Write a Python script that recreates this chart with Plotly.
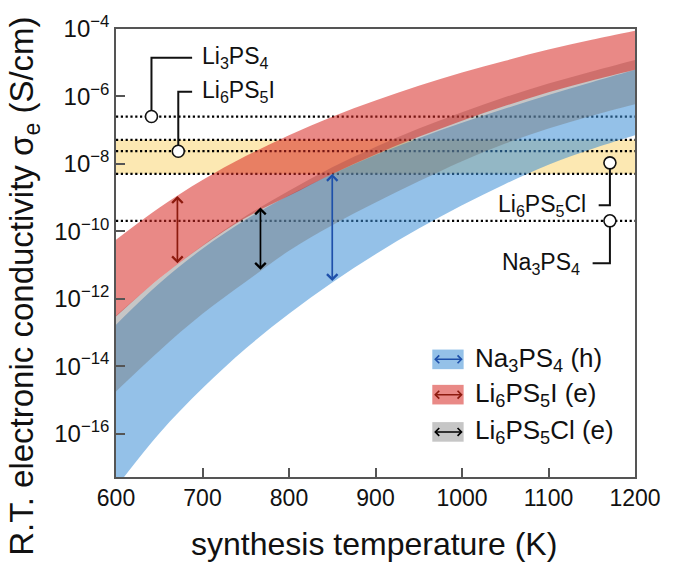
import numpy as np
import plotly.graph_objects as go

# Synthesis temperature grid (K)
temperature_K = [600, 650, 700, 750, 800, 850, 900, 950, 1000, 1050, 1100, 1150, 1200]

# log10 of room-temperature electronic conductivity (S/cm): lower / upper band edges
na3ps4_lo = [-17.60, -16.00, -14.66, -13.48, -12.45, -11.52, -10.68, -9.92, -9.23, -8.60, -8.03, -7.56, -7.15]
na3ps4_hi = [-12.77, -11.55, -10.52, -9.66, -8.93, -8.30, -7.74, -7.24, -6.78, -6.36, -5.96, -5.58, -5.21]
li6ps5cl_lo = [-14.75, -13.55, -12.45, -11.50, -10.58, -9.82, -9.15, -8.52, -7.92, -7.40, -6.95, -6.57, -6.23]
li6ps5cl_hi = [-12.50, -11.40, -10.42, -9.55, -8.80, -8.10, -7.50, -6.95, -6.47, -6.02, -5.62, -5.26, -4.92]
li6ps5i_lo = [-12.53, -11.40, -10.44, -9.60, -8.95, -8.30, -7.72, -7.20, -6.72, -6.28, -5.88, -5.53, -5.21]
li6ps5i_hi = [-10.25, -9.30, -8.48, -7.77, -7.15, -6.60, -6.12, -5.68, -5.29, -4.94, -4.61, -4.32, -4.05]

# Experimental values (S/cm) shown as open circles
exp_names = ["Li<sub>3</sub>PS<sub>4</sub>", "Li<sub>6</sub>PS<sub>5</sub>I",
             "Li<sub>6</sub>PS<sub>5</sub>Cl", "Na<sub>3</sub>PS<sub>4</sub>"]
exp_sigma = [2.53e-7, 2.37e-8, 1.07e-8, 2.04e-10]
exp_T = [641, 672, 1171, 1171]

# Reference levels (S/cm) drawn as dotted lines, and the Li6PS5Cl reported range
level_sigma = [2.53e-7, 5.17e-8, 2.37e-8, 5.07e-9, 2.04e-10]
cl_range = [5.07e-9, 5.17e-8]

# Band labels and the temperatures where the span arrows sit
band_labels = ["Na<sub>3</sub>PS<sub>4</sub> (h)", "Li<sub>6</sub>PS<sub>5</sub>I (e)",
               "Li<sub>6</sub>PS<sub>5</sub>Cl (e)"]
arrow_T = [850, 671, 767]

x_ticks = [600, 700, 800, 900, 1000, 1100, 1200]
y_tick_exp = [-16, -14, -12, -10, -8, -6, -4]

# ---- styling ----
FONT = "Liberation Sans, Arial, Helvetica, sans-serif"
AX = "#555555"
band_fill = {
    "na": "rgba(60,142,213,0.55)",
    "cl": "rgba(113,113,113,0.405)",
    "i": "rgba(215,40,35,0.55)",
}
arrow_col = {"na": "#1E50AA", "cl": "#000000", "i": "#8C1A0E"}

W, H = 673, 567
ML, MR, MT, MB = 116, 27, 20, 90
PW, PH = W - ML - MR, H - MT - MB


def px_x(px):
    return (px - ML) / PW


def px_y(py):
    return (H - MB - py) / PH


def sig(v):
    return list(np.power(10.0, v))


fig = go.Figure()

# Li6PS5Cl reported range (yellow)
fig.add_trace(go.Scatter(x=[x_ticks[0], x_ticks[-1]], y=[cl_range[0]] * 2, mode="lines",
                         line=dict(width=0), hoverinfo="skip", showlegend=False))
fig.add_trace(go.Scatter(x=[x_ticks[0], x_ticks[-1]], y=[cl_range[1]] * 2, mode="lines",
                         line=dict(width=0), fill="tonexty", fillcolor="#FCE8B2",
                         hoverinfo="skip", showlegend=False))

# dotted reference levels
lx, ly = [], []
for v in level_sigma:
    lx += [x_ticks[0], x_ticks[-1], None]
    ly += [v, v, None]
fig.add_trace(go.Scatter(x=lx, y=ly, mode="lines",
                         line=dict(color="#000000", width=2.2, dash="2.2px,2.6px"),
                         hoverinfo="skip", showlegend=False))

# conductivity bands
bands = [("na", na3ps4_lo, na3ps4_hi), ("cl", li6ps5cl_lo, li6ps5cl_hi), ("i", li6ps5i_lo, li6ps5i_hi)]
for key, lo, hi in bands:
    fig.add_trace(go.Scatter(x=temperature_K, y=sig(lo), mode="lines",
                             line=dict(width=0, shape="spline", smoothing=1.0),
                             hoverinfo="skip", showlegend=False))
    fig.add_trace(go.Scatter(x=temperature_K, y=sig(hi), mode="lines",
                             line=dict(width=0, shape="spline", smoothing=1.0),
                             fill="tonexty", fillcolor=band_fill[key],
                             hoverinfo="skip", showlegend=False))

# callout leaders for the experimental points
callouts = [
    dict(elbow=-4.85, end=688, side="right"),
    dict(elbow=-5.86, end=688, side="right"),
    dict(elbow=-9.23, end=1158, side="left"),
    dict(elbow=-10.95, end=1151, side="left"),
]
label_font = dict(size=23, color="#111111", family=FONT)
cx, cy = [], []
annotations = []
for i, c in enumerate(callouts):
    yel = 10 ** c["elbow"]
    cx += [exp_T[i], exp_T[i], c["end"], None]
    cy += [exp_sigma[i], yel, yel, None]
    if c["side"] == "right":
        annotations.append(dict(x=c["end"] + 9, y=c["elbow"], xref="x", yref="y",
                                text=exp_names[i], showarrow=False, xanchor="left",
                                yanchor="middle", font=label_font))
    else:
        annotations.append(dict(x=c["end"] - 12, y=c["elbow"], xref="x", yref="y",
                                text=exp_names[i], showarrow=False, xanchor="right",
                                yanchor="middle", font=label_font))
fig.add_trace(go.Scatter(x=cx, y=cy, mode="lines", line=dict(color="#111111", width=2),
                         hoverinfo="skip", showlegend=False))

fig.add_trace(go.Scatter(x=exp_T, y=exp_sigma, mode="markers",
                         marker=dict(size=12, color="white", line=dict(color="#111111", width=1.6)),
                         hoverinfo="skip", showlegend=False))

# span arrows inside each band
for key, lo, hi in bands:
    t = arrow_T[["na", "i", "cl"].index(key)]
    ylo = float(np.interp(t, temperature_K, lo))
    yhi = float(np.interp(t, temperature_K, hi))
    annotations.append(dict(x=t, y=yhi, ax=t, ay=ylo, xref="x", yref="y", axref="x", ayref="y",
                            text="", showarrow=True, arrowhead=4, startarrowhead=4,
                            arrowside="end+start", arrowsize=1.2, startarrowsize=1.2,
                            arrowwidth=1.7, arrowcolor=arrow_col[key],
                            standoff=0, startstandoff=0))

# legend drawn by hand: coloured patch with a double arrow, then the label
legend_rows = [357, 393, 431]
shapes = []
for k, key in enumerate(["na", "i", "cl"]):
    yc = legend_rows[k]
    shapes.append(dict(type="rect", xref="paper", yref="paper",
                       x0=px_x(439), x1=px_x(471), y0=px_y(yc + 10), y1=px_y(yc - 10),
                       fillcolor=band_fill[key], line=dict(width=0)))
    annotations.append(dict(x=px_x(470), y=px_y(yc), xref="paper", yref="paper",
                            ax=-30, ay=0, text="", showarrow=True, arrowhead=4,
                            startarrowhead=4, arrowside="end+start", arrowsize=1.0,
                            startarrowsize=1.0, arrowwidth=1.5, arrowcolor=arrow_col[key],
                            standoff=0, startstandoff=0))
    annotations.append(dict(x=px_x(481), y=px_y(yc), xref="paper", yref="paper",
                            text=band_labels[k], showarrow=False, xanchor="left",
                            yanchor="middle", font=dict(size=26, color="#111111", family=FONT)))

# axis titles
annotations.append(dict(x=px_x(379), y=px_y(545), xref="paper", yref="paper",
                        text="synthesis temperature (K)", showarrow=False,
                        xanchor="center", yanchor="middle",
                        font=dict(size=32, color="#111111", family=FONT)))
annotations.append(dict(x=px_x(22), y=px_y(282), xref="paper", yref="paper",
                        text="R.T. electronic conductivity σ<sub>e</sub> (S/cm)", showarrow=False,
                        textangle=-90, xanchor="center", yanchor="middle",
                        font=dict(size=33, color="#111111", family=FONT)))

fig.update_layout(
    width=W, height=H,
    margin=dict(l=ML, r=MR, t=MT, b=MB),
    plot_bgcolor="white", paper_bgcolor="white",
    showlegend=False,
    font=dict(family=FONT, color="#111111"),
    annotations=annotations,
    shapes=shapes,
    xaxis=dict(range=[600, 1200], tickvals=x_ticks, ticktext=[str(v) for v in x_ticks],
               ticks="inside", ticklen=9, tickwidth=1.5, tickcolor=AX,
               showline=True, linecolor=AX, linewidth=1.5, mirror=True,
               showgrid=False, zeroline=False, tickfont=dict(size=23, color="#111111")),
    yaxis=dict(type="log", range=[-17.29, -4],
               tickvals=[10.0 ** e for e in y_tick_exp],
               ticktext=["10<sup>−%d</sup>" % (-e) for e in y_tick_exp],
               ticks="inside", ticklen=9, tickwidth=1.5, tickcolor=AX,
               showline=True, linecolor=AX, linewidth=1.5, mirror=True,
               showgrid=False, zeroline=False, tickfont=dict(size=24, color="#111111")),
)

fig.write_html("out.html")
